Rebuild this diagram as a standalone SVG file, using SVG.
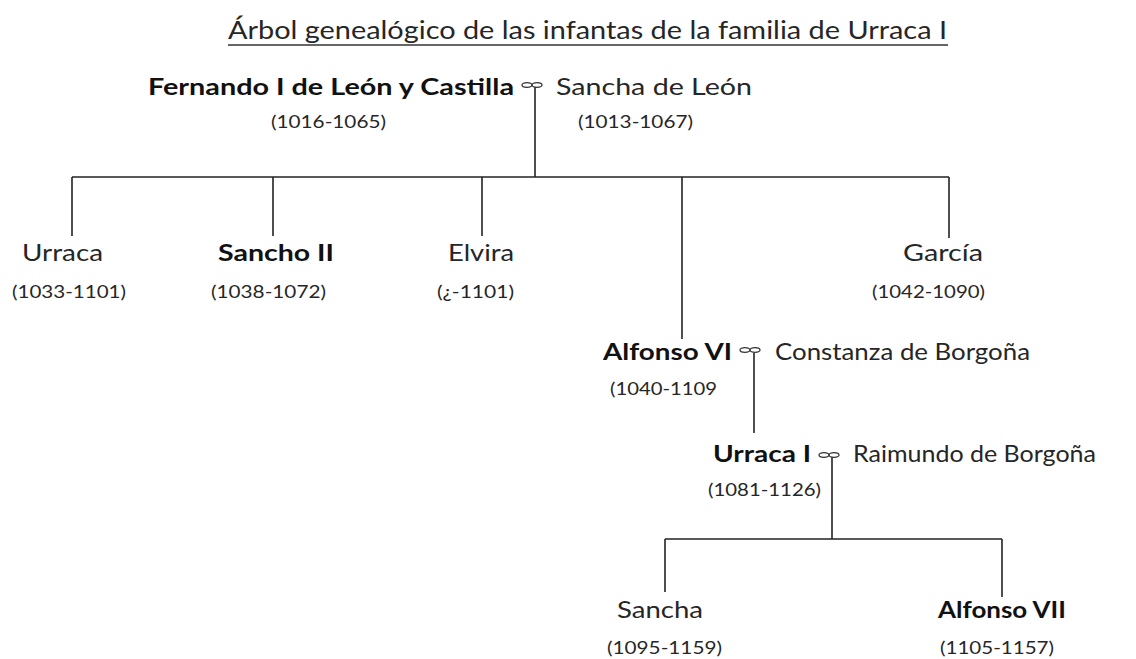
<svg xmlns="http://www.w3.org/2000/svg" width="1136" height="659" viewBox="0 0 1136 659">
<style>
text{font-family:Lato,"Open Sans","Liberation Sans",sans-serif;fill:#262626}
.t{font-size:25px}
.n{font-size:23px}
.b{font-weight:bold;fill:#111}
.d{font-size:18px}
.c line{stroke:#222;stroke-width:1.6}
.m ellipse{fill:none;stroke:#333;stroke-width:1.3}
</style>
<defs>
<g id="wed" class="m">
<ellipse cx="-5" cy="0" rx="5" ry="2.3"/>
<ellipse cx="5" cy="0" rx="5" ry="2.3"/>
</g>
</defs>
<rect width="1136" height="659" fill="#fff"/>
<g id="title">
<text class="t" x="228" y="39" textLength="719" lengthAdjust="spacingAndGlyphs">Árbol genealógico de las infantas de la familia de Urraca I</text>
<line x1="228" y1="45" x2="948" y2="45" stroke="#333" stroke-width="1.5"/>
</g>
<g class="c" id="connectors">
<line x1="535" y1="87" x2="535" y2="177"/>
<line x1="72" y1="177" x2="949" y2="177"/>
<line x1="72" y1="177" x2="72" y2="236"/>
<line x1="273" y1="177" x2="273" y2="236"/>
<line x1="482" y1="177" x2="482" y2="236"/>
<line x1="682" y1="177" x2="682" y2="339"/>
<line x1="949" y1="177" x2="949" y2="238"/>
<line x1="754" y1="353" x2="754" y2="433"/>
<line x1="832" y1="457" x2="832" y2="539"/>
<line x1="665" y1="539" x2="1002" y2="539"/>
<line x1="665" y1="539" x2="665" y2="592"/>
<line x1="1002" y1="539" x2="1002" y2="597"/>
</g>
<g id="marriages">
<use href="#wed" x="532" y="85"/>
<use href="#wed" x="750" y="350"/>
<use href="#wed" x="829" y="455"/>
</g>
<g id="fernando">
<text class="n b" x="148" y="95" textLength="366" lengthAdjust="spacingAndGlyphs">Fernando I de León y Castilla</text>
<text class="d" x="271" y="128" textLength="115" lengthAdjust="spacingAndGlyphs">(1016-1065)</text>
</g>
<g id="sancha-leon">
<text class="n" x="556" y="95" textLength="196" lengthAdjust="spacingAndGlyphs">Sancha de León</text>
<text class="d" x="578" y="128" textLength="115" lengthAdjust="spacingAndGlyphs">(1013-1067)</text>
</g>
<g id="urraca">
<text class="n" x="22" y="261" textLength="81" lengthAdjust="spacingAndGlyphs">Urraca</text>
<text class="d" x="12" y="298" textLength="114" lengthAdjust="spacingAndGlyphs">(1033-1101)</text>
</g>
<g id="sancho">
<text class="n b" x="218" y="261" textLength="116" lengthAdjust="spacingAndGlyphs">Sancho II</text>
<text class="d" x="211" y="298" textLength="115" lengthAdjust="spacingAndGlyphs">(1038-1072)</text>
</g>
<g id="elvira">
<text class="n" x="448" y="261" textLength="66" lengthAdjust="spacingAndGlyphs">Elvira</text>
<text class="d" x="437" y="298" textLength="77" lengthAdjust="spacingAndGlyphs">(¿-1101)</text>
</g>
<g id="garcia">
<text class="n" x="903" y="261" textLength="80" lengthAdjust="spacingAndGlyphs">García</text>
<text class="d" x="872" y="298" textLength="113" lengthAdjust="spacingAndGlyphs">(1042-1090)</text>
</g>
<g id="alfonso6">
<text class="n b" x="603" y="360" textLength="129" lengthAdjust="spacingAndGlyphs">Alfonso VI</text>
<text class="d" x="610" y="395" textLength="107" lengthAdjust="spacingAndGlyphs">(1040-1109</text>
</g>
<g id="constanza">
<text class="n" x="775" y="360" textLength="255" lengthAdjust="spacingAndGlyphs">Constanza de Borgoña</text>
</g>
<g id="urraca1">
<text class="n b" x="713" y="462" textLength="98" lengthAdjust="spacingAndGlyphs">Urraca I</text>
<text class="d" x="708" y="496" textLength="113" lengthAdjust="spacingAndGlyphs">(1081-1126)</text>
</g>
<g id="raimundo">
<text class="n" x="853" y="462" textLength="243" lengthAdjust="spacingAndGlyphs">Raimundo de Borgoña</text>
</g>
<g id="sancha">
<text class="n" x="617" y="618" textLength="86" lengthAdjust="spacingAndGlyphs">Sancha</text>
<text class="d" x="607" y="654" textLength="115" lengthAdjust="spacingAndGlyphs">(1095-1159)</text>
</g>
<g id="alfonso7">
<text class="n b" x="938" y="618" textLength="128" lengthAdjust="spacingAndGlyphs">Alfonso VII</text>
<text class="d" x="940" y="654" textLength="114" lengthAdjust="spacingAndGlyphs">(1105-1157)</text>
</g>
</svg>
